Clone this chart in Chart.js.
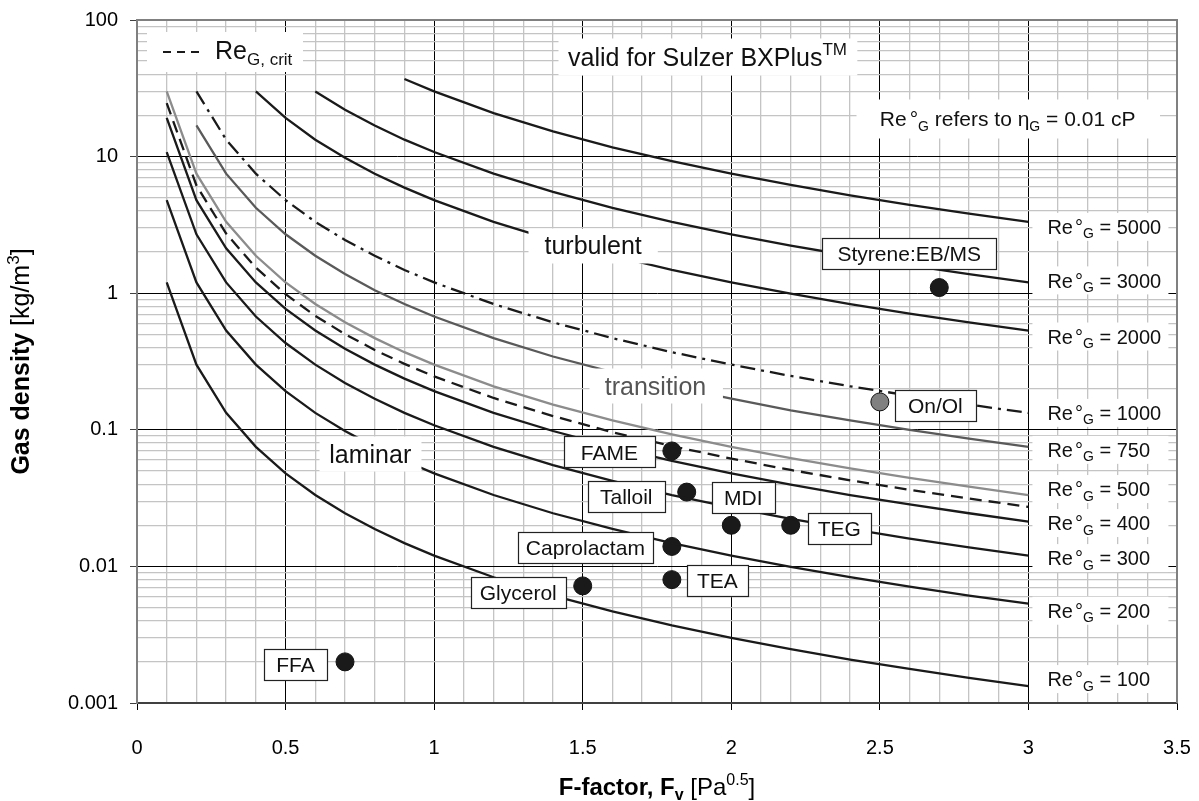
<!DOCTYPE html>
<html>
<head>
<meta charset="utf-8">
<script src="https://cdn.jsdelivr.net/npm/chart.js@4.4.1/dist/chart.umd.min.js"></script>
<style>
  html, body { margin: 0; padding: 0; background: #fff; }
  canvas { display: block; }
</style>
</head>
<body>
<canvas id="chart" width="1199" height="801"></canvas>
<script>
const FONT = '"Liberation Sans", Arial, Helvetica, sans-serif';

// F-factor points the Re lines are drawn through
const fFactor = [0.1, 0.2, 0.3, 0.4, 0.5, 0.6, 0.7, 0.8, 0.9, 1.0, 1.2, 1.4, 1.6, 1.8, 2.0, 2.2, 2.4, 2.6, 2.8, 3.0];

// gas density [kg/m3] on each line (null = line not drawn there)
const rhoRe100  = [1.2, 0.3, 0.133, 0.075, 0.048, 0.0333, 0.0245, 0.0188, 0.0148, 0.012, 0.00833, 0.00612, 0.00469, 0.0037, 0.003, 0.00248, 0.00208, 0.00178, 0.00153, 0.00133];
const rhoRe200  = [4.8, 1.2, 0.533, 0.3, 0.192, 0.133, 0.098, 0.075, 0.0593, 0.048, 0.0333, 0.0245, 0.0188, 0.0148, 0.012, 0.00992, 0.00833, 0.0071, 0.00612, 0.00533];
const rhoRe300  = [10.8, 2.7, 1.2, 0.675, 0.432, 0.3, 0.22, 0.169, 0.133, 0.108, 0.075, 0.0551, 0.0422, 0.0333, 0.027, 0.0223, 0.0188, 0.016, 0.0138, 0.012];
const rhoRe400  = [19.2, 4.8, 2.13, 1.2, 0.768, 0.533, 0.392, 0.3, 0.237, 0.192, 0.133, 0.098, 0.075, 0.0593, 0.048, 0.0397, 0.0333, 0.0284, 0.0245, 0.0213];
const rhoCrit   = [24.6, 6.15, 2.73, 1.54, 0.984, 0.683, 0.502, 0.384, 0.304, 0.246, 0.171, 0.126, 0.0961, 0.0759, 0.0615, 0.0508, 0.0427, 0.0364, 0.0314, 0.0273];
const rhoRe500  = [30, 7.5, 3.33, 1.88, 1.2, 0.833, 0.612, 0.469, 0.37, 0.3, 0.208, 0.153, 0.117, 0.0926, 0.075, 0.062, 0.0521, 0.0444, 0.0383, 0.0333];
const rhoRe750  = [null, 16.9, 7.5, 4.22, 2.7, 1.88, 1.38, 1.05, 0.833, 0.675, 0.469, 0.344, 0.264, 0.208, 0.169, 0.139, 0.117, 0.0999, 0.0861, 0.075];
const rhoRe1000 = [null, 30, 13.3, 7.5, 4.8, 3.33, 2.45, 1.88, 1.48, 1.2, 0.833, 0.612, 0.469, 0.37, 0.3, 0.248, 0.208, 0.178, 0.153, 0.133];
const rhoRe2000 = [null, null, null, 30, 19.2, 13.3, 9.8, 7.5, 5.93, 4.8, 3.33, 2.45, 1.88, 1.48, 1.2, 0.992, 0.833, 0.71, 0.612, 0.533];
const rhoRe3000 = [null, null, null, null, null, 30, 22, 16.9, 13.3, 10.8, 7.5, 5.51, 4.22, 3.33, 2.7, 2.23, 1.88, 1.6, 1.38, 1.2];
const rhoRe5000 = [null, null, null, null, null, null, null, null, 37, 30, 20.8, 15.3, 11.7, 9.26, 7.5, 6.2, 5.21, 4.44, 3.83, 3.33];

// operating points of systems
const systemNames   = ['FFA', 'Glycerol', 'TEA', 'Caprolactam', 'MDI', 'TEG', 'Talloil', 'FAME', 'On/Ol', 'Styrene:EB/MS'];
const systemF       = [0.7, 1.5, 1.8, 1.8, 2.0, 2.2, 1.85, 1.8, 2.5, 2.7];
const systemDensity = [0.002, 0.0072, 0.008, 0.014, 0.02, 0.02, 0.035, 0.07, 0.16, 1.1];

const xTickLabels = ['0', '0.5', '1', '1.5', '2', '2.5', '3', '3.5'];
const yTickLabels = ['0.001', '0.01', '0.1', '1', '10', '100'];

const BLACK = '#1a1a1a';
const curves = [
  { re: '100',  rho: rhoRe100,  color: BLACK, dash: [], dy: -7 },
  { re: '200',  rho: rhoRe200,  color: BLACK, dash: [], dy: 7 },
  { re: '300',  rho: rhoRe300,  color: BLACK, dash: [], dy: 2.5 },
  { re: '400',  rho: rhoRe400,  color: BLACK, dash: [], dy: 1.5 },
  { re: null,   rho: rhoCrit,   color: BLACK, dash: [12, 7], dy: 0 },
  { re: '500',  rho: rhoRe500,  color: '#8c8c8c', dash: [], dy: -6 },
  { re: '750',  rho: rhoRe750,  color: '#5a5a5a', dash: [], dy: 3 },
  { re: '1000', rho: rhoRe1000, color: BLACK, dash: [15, 6, 3, 6], dy: 0 },
  { re: '2000', rho: rhoRe2000, color: BLACK, dash: [], dy: 6 },
  { re: '3000', rho: rhoRe3000, color: BLACK, dash: [], dy: -2 },
  { re: '5000', rho: rhoRe5000, color: BLACK, dash: [], dy: 5 }
];

// boxed name placement relative to its dot: anchored edge, dx, dy, box width
const labelPlace = {
  'FFA': ['right', -18, 3, 63],
  'Glycerol': ['right', -17, 7, 95],
  'TEA': ['left', 15, 1, 61],
  'Caprolactam': ['right', -19, 1, 135],
  'MDI': ['center', 12, -28, 63],
  'TEG': ['left', 17, 3, 63],
  'Talloil': ['right', -22, 4, 77],
  'FAME': ['right', -17, 1, 91],
  'On/Ol': ['left', 15, 4, 81],
  'Styrene:EB/MS': ['center', -30, -34, 174]
};

const datasets = curves.map(c => ({
  type: 'line',
  data: fFactor.map((f, i) => ({ x: f, y: c.rho[i] })).filter(p => p.y !== null),
  borderColor: c.color,
  borderWidth: 2.3,
  borderDash: c.dash,
  pointRadius: 0,
  tension: 0,
  fill: false
}));
datasets.push({
  type: 'scatter',
  data: systemF.map((f, i) => ({ x: f, y: systemDensity[i] })),
  pointRadius: 9,
  pointBackgroundColor: ctx => systemNames[ctx.dataIndex] === 'On/Ol' ? '#808080' : BLACK,
  pointBorderColor: '#111',
  pointBorderWidth: 1
});

function partFont(p, size) {
  const s = (p.sub || p.sup) ? Math.round(size * 0.68) : size;
  return (p.b ? 'bold ' : '') + s + 'px ' + FONT;
}
function richWidth(ctx, parts, size) {
  let w = 0;
  parts.forEach(p => {
    if (p.gap) { w += p.gap; return; }
    ctx.font = partFont(p, size);
    w += ctx.measureText(p.t).width;
  });
  return w;
}
function drawRich(ctx, parts, x, cy, size, color, align) {
  const w = richWidth(ctx, parts, size);
  let cx = align === 'center' ? x - w / 2 : align === 'right' ? x - w : x;
  const base = cy + size * 0.36;
  ctx.fillStyle = color;
  ctx.textAlign = 'left';
  ctx.textBaseline = 'alphabetic';
  parts.forEach(p => {
    if (p.gap) { cx += p.gap; return; }
    ctx.font = partFont(p, size);
    let y = base;
    if (p.sub) y += size * 0.22;
    if (p.sup) y -= size * 0.42;
    ctx.fillText(p.t, cx, y);
    cx += ctx.measureText(p.t).width;
  });
  return w;
}
function boxText(ctx, parts, cx, cy, size, color, padX, padY, border, boxW) {
  const w = richWidth(ctx, parts, size);
  const bw = boxW || w + padX * 2;
  const h = size + padY * 2;
  const x0 = Math.round(cx - bw / 2) + 0.5, y0 = Math.round(cy - h / 2) + 0.5;
  ctx.fillStyle = '#fff';
  ctx.fillRect(x0, y0, bw, h);
  if (border) {
    ctx.strokeStyle = '#222';
    ctx.lineWidth = 1.2;
    ctx.setLineDash([]);
    ctx.strokeRect(x0, y0, bw, h);
  }
  drawRich(ctx, parts, cx, cy, size, color, 'center');
}

const framePlugin = {
  id: 'frame',
  beforeDatasetsDraw(chart) {
    const { ctx, chartArea: a } = chart;
    ctx.save();
    ctx.strokeStyle = '#808080';
    ctx.lineWidth = 2;
    ctx.beginPath();
    ctx.moveTo(a.left, a.top);
    ctx.lineTo(a.right, a.top);
    ctx.lineTo(a.right, a.bottom);
    ctx.stroke();
    ctx.restore();
  }
};

const labelPlugin = {
  id: 'labels',
  afterDatasetsDraw(chart) {
    const { ctx, chartArea: a } = chart;
    const xs = chart.scales.x, ys = chart.scales.y;
    ctx.save();

    // Re labels at the right end of each line
    const xEnd = xs.getPixelForValue(3.0);
    curves.forEach((c, i) => {
      if (!c.re) return;
      const pts = chart.getDatasetMeta(i).data;
      const y = pts[pts.length - 1].y + c.dy;
      ctx.fillStyle = '#fff';
      ctx.fillRect(xEnd + 4, y - 14, 136, 28);
      drawRich(ctx, [{ t: 'Re' }, { gap: 2 }, { t: '°' }, { t: 'G', sub: true }, { t: ' = ' + c.re }],
        xEnd + 19, y, 20, '#111', 'left');
    });

    // boxed system names
    const meta = chart.getDatasetMeta(curves.length).data;
    systemNames.forEach((name, i) => {
      const p = meta[i];
      const [side, dx, dy, bw] = labelPlace[name];
      let cx = p.x + dx;
      if (side === 'right') cx -= bw / 2;
      if (side === 'left') cx += bw / 2;
      boxText(ctx, [{ t: name }], cx, p.y + dy, 21, '#111', 7, 5, true, bw);
    });

    // regime names
    boxText(ctx, [{ t: 'turbulent' }], xs.getPixelForValue(1.535), ys.getPixelForValue(2.25), 25, '#111', 16, 5, false);
    boxText(ctx, [{ t: 'transition' }], xs.getPixelForValue(1.745), ys.getPixelForValue(0.21), 25, '#555', 16, 5, false);
    boxText(ctx, [{ t: 'laminar' }], xs.getPixelForValue(0.785), ys.getPixelForValue(0.067), 25, '#111', 10, 5, false);

    // notes
    boxText(ctx, [{ t: 'valid for Sulzer BXPlus' }, { t: 'TM', sup: true }],
      xs.getPixelForValue(1.92), ys.getPixelForValue(54), 25, '#111', 10, 6, false);
    boxText(ctx, [{ t: 'Re' }, { gap: 3 }, { t: '°' }, { t: 'G', sub: true }, { t: ' refers to η' }, { t: 'G', sub: true }, { t: ' = 0.01 cP' }],
      xs.getPixelForValue(2.93), ys.getPixelForValue(19), 21, '#111', 24, 9, false);

    // legend for the critical line
    ctx.fillStyle = '#fff';
    ctx.fillRect(a.left + 10, a.top + 12, 156, 40);
    ctx.strokeStyle = BLACK;
    ctx.lineWidth = 2;
    ctx.setLineDash([8, 6]);
    ctx.beginPath();
    ctx.moveTo(a.left + 26, a.top + 32);
    ctx.lineTo(a.left + 64, a.top + 32);
    ctx.stroke();
    ctx.setLineDash([]);
    drawRich(ctx, [{ t: 'Re' }, { t: 'G, crit', sub: true }], a.left + 78, a.top + 30, 25, '#111', 'left');

    ctx.restore();
  },
  afterDraw(chart) {
    const { ctx, chartArea: a } = chart;
    ctx.save();
    drawRich(ctx, [{ t: 'F-factor, F', b: true }, { t: 'v', b: true, sub: true }, { t: ' [Pa' }, { t: '0.5', sup: true }, { t: ']' }],
      (a.left + a.right) / 2, 786, 24, '#000', 'center');
    ctx.translate(20, (a.top + a.bottom) / 2);
    ctx.rotate(-Math.PI / 2);
    drawRich(ctx, [{ t: 'Gas density', b: true }, { t: ' [kg/m' }, { t: '3', sup: true }, { t: ']' }],
      0, 0, 25, '#000', 'center');
    ctx.restore();
  }
};

const isDecade = v => Math.abs(Math.log10(v) - Math.round(Math.log10(v))) < 1e-6;
const isHalf = v => Math.abs(v * 2 - Math.round(v * 2)) < 1e-6;

new Chart(document.getElementById('chart'), {
  data: { datasets },
  options: {
    responsive: false,
    animation: false,
    devicePixelRatio: 1,
    layout: { padding: { top: 20, right: 22, left: 0, bottom: 0 } },
    plugins: { legend: { display: false }, tooltip: { enabled: false } },
    scales: {
      x: {
        type: 'linear',
        min: 0,
        max: 3.5,
        afterBuildTicks: s => {
          const t = [];
          for (let i = 0; i <= 35; i++) t.push({ value: i / 10 });
          s.ticks = t;
        },
        afterFit: s => { s.height = 98; s.paddingLeft = 0; s.paddingRight = 0; },
        ticks: {
          autoSkip: false,
          maxRotation: 0,
          padding: 26,
          color: '#000',
          font: { family: FONT, size: 20 },
          callback: v => isHalf(v) ? xTickLabels[Math.round(v * 2)] : ''
        },
        grid: {
          color: c => c.tick && isHalf(c.tick.value) ? '#000' : '#c4c4c4',
          lineWidth: c => c.tick && isHalf(c.tick.value) ? 1 : 1.3,
          tickColor: c => c.tick && isHalf(c.tick.value) ? '#000' : 'rgba(0,0,0,0)',
          tickLength: 7
        },
        border: { color: '#404040', width: 2 }
      },
      y: {
        type: 'logarithmic',
        min: 0.001,
        max: 100,
        afterBuildTicks: s => {
          const t = [];
          for (let e = -3; e <= 1; e++) {
            for (let m = 1; m <= 9; m++) t.push({ value: Number((m * Math.pow(10, e)).toPrecision(3)) });
          }
          t.push({ value: 100 });
          s.ticks = t;
        },
        afterFit: s => { s.width = 137; s.paddingTop = 0; s.paddingBottom = 0; },
        ticks: {
          autoSkip: false,
          padding: 12,
          color: '#000',
          font: { family: FONT, size: 20 },
          callback: v => isDecade(v) ? yTickLabels[Math.round(Math.log10(v)) + 3] : ''
        },
        grid: {
          color: c => c.tick && isDecade(c.tick.value) ? '#000' : '#c4c4c4',
          lineWidth: c => c.tick && isDecade(c.tick.value) ? 1 : 1.3,
          tickColor: c => c.tick && isDecade(c.tick.value) ? '#404040' : 'rgba(0,0,0,0)',
          tickLength: 7
        },
        border: { color: '#808080', width: 2 }
      }
    }
  },
  plugins: [framePlugin, labelPlugin]
});
</script>
</body>
</html>
